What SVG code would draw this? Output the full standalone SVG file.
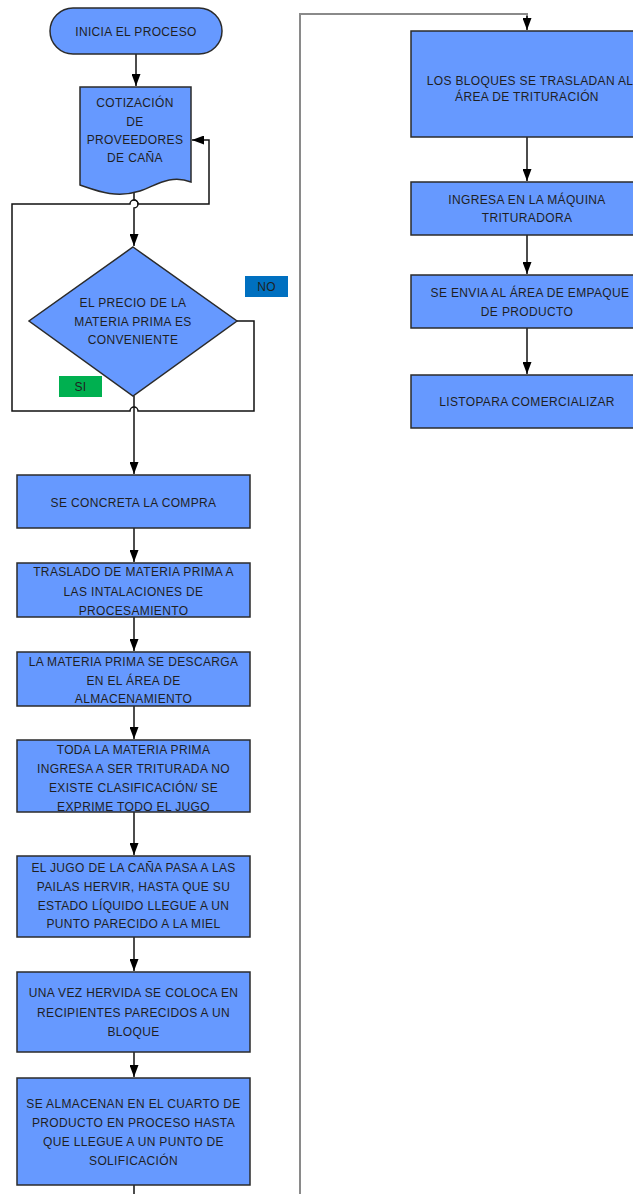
<svg xmlns="http://www.w3.org/2000/svg" width="633" height="1194" viewBox="0 0 633 1194">
<style>
.n{fill:#6699ff;stroke:#2b2b2b;stroke-width:1.5}
.t{font-family:"Liberation Sans",Arial,sans-serif;font-size:12px;fill:#1f1f1f;text-anchor:middle;letter-spacing:0.35px}
.c{fill:none;stroke:#111;stroke-width:1.5}
.g{fill:none;stroke:#8a8a8a;stroke-width:2}
</style>
<defs>
<marker id="ah" viewBox="0 0 12 9" refX="12" refY="4.5" markerWidth="12" markerHeight="9" markerUnits="userSpaceOnUse" orient="auto">
<path d="M0,0 L12,4.5 L0,9 z" fill="#000"/>
</marker>
</defs>
<rect width="633" height="1194" fill="#fff"/>
<g id="connectors">
<line class="c" x1="136" y1="54" x2="136" y2="86" marker-end="url(#ah)"/>
<path class="c" d="M134,189 V200 a4,4 0 0 1 0,8 V246" marker-end="url(#ah)"/>
<path class="c" d="M237,321 H254 V411 H138 a4,4 0 0 0 -8,0 H12 V204 H130 a4,4 0 0 1 8,0 H209 V140 H192" marker-end="url(#ah)"/>
<line class="c" x1="134" y1="396" x2="134" y2="474" marker-end="url(#ah)"/>
<line class="c" x1="134" y1="528" x2="134" y2="562" marker-end="url(#ah)"/>
<line class="c" x1="134" y1="617" x2="134" y2="651" marker-end="url(#ah)"/>
<line class="c" x1="134" y1="706" x2="134" y2="739" marker-end="url(#ah)"/>
<line class="c" x1="134" y1="812" x2="134" y2="855" marker-end="url(#ah)"/>
<line class="c" x1="134" y1="937" x2="134" y2="971" marker-end="url(#ah)"/>
<line class="c" x1="134" y1="1052" x2="134" y2="1077" marker-end="url(#ah)"/>
<line class="c" x1="134" y1="1185" x2="134" y2="1194"/>
<path class="g" d="M300,1194 V14 H527 V18"/>
<path class="c" d="M527,16 V30" marker-end="url(#ah)"/>
<line class="c" x1="527" y1="137" x2="527" y2="181" marker-end="url(#ah)"/>
<line class="c" x1="527" y1="235" x2="527" y2="274" marker-end="url(#ah)"/>
<line class="c" x1="527" y1="328" x2="527" y2="374" marker-end="url(#ah)"/>
</g>
<g id="start">
<rect class="n" x="50" y="8" width="172" height="46" rx="23"/>
<text class="t" x="136" y="36">INICIA EL PROCESO</text>
</g>
<g id="cotizacion">
<path class="n" d="M80,87 H191 V182 C170,174 155,186 140,191 C115,199 95,190 80,185 Z"/>
<text class="t" x="135" y="107">COTIZACIÓN</text>
<text class="t" x="135" y="126">DE</text>
<text class="t" x="135" y="144">PROVEEDORES</text>
<text class="t" x="135" y="162">DE CAÑA</text>
</g>
<g id="decision">
<path class="n" d="M133,247 L237,321 L133,396 L29,321 Z"/>
<text class="t" x="133" y="307">EL PRECIO DE LA</text>
<text class="t" x="133" y="326">MATERIA PRIMA ES</text>
<text class="t" x="133" y="344">CONVENIENTE</text>
</g>
<g id="no">
<rect x="245" y="276" width="43" height="21" fill="#0070c0"/>
<text class="t" x="266.5" y="291">NO</text>
</g>
<g id="si">
<rect x="59" y="376" width="43" height="21" fill="#00b050"/>
<text class="t" x="80.5" y="391">SI</text>
</g>
<g id="compra">
<rect class="n" x="17" y="475" width="233" height="53"/>
<text class="t" x="133.5" y="507">SE CONCRETA LA COMPRA</text>
</g>
<g id="traslado">
<rect class="n" x="17" y="563" width="233" height="54"/>
<text class="t" x="133.5" y="576">TRASLADO DE MATERIA PRIMA A</text>
<text class="t" x="133.5" y="596">LAS INTALACIONES DE</text>
<text class="t" x="133.5" y="615">PROCESAMIENTO</text>
</g>
<g id="descarga">
<rect class="n" x="17" y="652" width="233" height="54"/>
<text class="t" x="133.5" y="666">LA MATERIA PRIMA SE DESCARGA</text>
<text class="t" x="133.5" y="685">EN EL ÁREA DE</text>
<text class="t" x="133.5" y="703">ALMACENAMIENTO</text>
</g>
<g id="triturada">
<rect class="n" x="17" y="740" width="233" height="72"/>
<text class="t" x="133.5" y="754">TODA LA MATERIA PRIMA</text>
<text class="t" x="133.5" y="773">INGRESA A SER TRITURADA NO</text>
<text class="t" x="133.5" y="792">EXISTE CLASIFICACIÓN/ SE</text>
<text class="t" x="133.5" y="811">EXPRIME TODO EL JUGO</text>
</g>
<g id="pailas">
<rect class="n" x="17" y="856" width="233" height="81"/>
<text class="t" x="133.5" y="872">EL JUGO DE LA CAÑA PASA A LAS</text>
<text class="t" x="133.5" y="891">PAILAS HERVIR, HASTA QUE SU</text>
<text class="t" x="133.5" y="910">ESTADO LÍQUIDO LLEGUE A UN</text>
<text class="t" x="133.5" y="928">PUNTO PARECIDO A LA MIEL</text>
</g>
<g id="recipientes">
<rect class="n" x="17" y="972" width="233" height="80"/>
<text class="t" x="133.5" y="997">UNA VEZ HERVIDA SE COLOCA EN</text>
<text class="t" x="133.5" y="1017">RECIPIENTES PARECIDOS A UN</text>
<text class="t" x="133.5" y="1036">BLOQUE</text>
</g>
<g id="almacenan">
<rect class="n" x="17" y="1078" width="233" height="107"/>
<text class="t" x="133.5" y="1108">SE ALMACENAN EN EL CUARTO DE</text>
<text class="t" x="133.5" y="1127">PRODUCTO EN PROCESO  HASTA</text>
<text class="t" x="133.5" y="1146">QUE LLEGUE A UN PUNTO DE</text>
<text class="t" x="133.5" y="1165">SOLIFICACIÓN</text>
</g>
<g id="bloques">
<rect class="n" x="411" y="31" width="232" height="106"/>
<text class="t" x="530" y="85">LOS BLOQUES SE TRASLADAN AL</text>
<text class="t" x="527" y="101">ÁREA DE TRITURACIÓN</text>
</g>
<g id="maquina">
<rect class="n" x="411" y="182" width="232" height="53"/>
<text class="t" x="527" y="204">INGRESA EN LA MÁQUINA</text>
<text class="t" x="527" y="222">TRITURADORA</text>
</g>
<g id="empaque">
<rect class="n" x="411" y="275" width="232" height="53"/>
<text class="t" x="530" y="297">SE ENVIA AL ÁREA DE EMPAQUE</text>
<text class="t" x="527" y="316">DE PRODUCTO</text>
</g>
<g id="listo">
<rect class="n" x="411" y="375" width="232" height="53"/>
<text class="t" x="527" y="406">LISTOPARA COMERCIALIZAR</text>
</g>
</svg>
